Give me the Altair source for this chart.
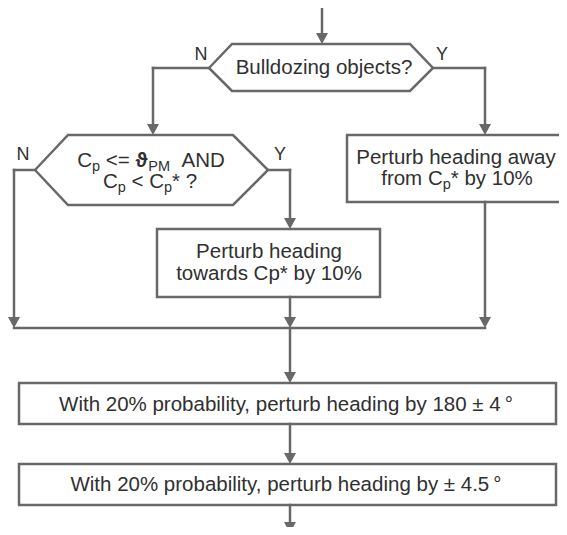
import altair as alt
import pandas as pd

# ---------------- content ----------------
branch_labels = ["N", "Y", "N", "Y"]
single_labels = [
    "Bulldozing objects?",
    "Perturb heading away",
    "Perturb heading",
    "towards Cp* by 10%",
    "With 20% probability, perturb heading by 180 \u00b1 4\u2009\u00b0",
    "With 20% probability, perturb heading by \u00b1 4.5\u2009\u00b0",
]
# lines with subscripts: (text, role) n=normal, s=subscript, b=bold symbol
cond_line1 = [("C", "n"), ("p", "s"), (" <= ", "n"), ("\u03d1", "b"), ("PM", "s"), ("  AND", "n")]
cond_line2 = [("C", "n"), ("p", "s"), (" < C", "n"), ("p", "s"), ("* ?", "n")]
away_line2 = [("from C", "n"), ("p", "s"), ("* by 10%", "n")]

# ---------------- layout (diagram coordinates, px of the figure) ----------------
single_cx = [324, 456, 269, 269, 286, 286]
single_base = [74, 164, 258, 279.5, 411, 491]
rich_lines = [cond_line1, cond_line2, away_line2]
rich_cx = [151, 150, 457]
rich_base = [167, 188, 184.5]

branch_x = [201, 442, 23, 280]
branch_base = [60, 60, 160, 160]

box_x1 = [347, 157, 19, 19]
box_x2 = [566, 380, 556, 556]
box_y1 = [135, 229, 383, 464]
box_y2 = [202, 297, 424, 505]

hex_xl = [209, 35]
hex_xtl = [232, 68]
hex_xtr = [410, 233]
hex_xr = [433, 268]
hex_yt = [44, 135]
hex_ym = [68, 170]
hex_yb = [91, 205]

seg_x1 = [322, 209, 153, 433, 485, 35, 14, 268, 290, 290, 485, 14, 290, 290, 290]
seg_y1 = [0, 68, 68, 68, 68, 170, 170, 170, 170, 297, 202, 328, 328, 424, 505]
seg_x2 = [322, 153, 153, 485, 485, 14, 14, 290, 290, 290, 485, 485, 290, 290, 290]
seg_y2 = [44, 68, 135, 68, 135, 170, 328, 170, 229, 328, 328, 328, 383, 464, 533]

arrow_x = [322, 153, 485, 14, 290, 290, 485, 290, 290, 290]
arrow_y = [44, 135, 135, 328, 229, 328, 328, 383, 464, 533]

LINE = "#686868"
TEXT = "#303030"
FONT = "Liberation Sans"
MAIN_SIZE = 20.5
SUB_SIZE = 14.5

# Arial / Liberation Sans advance widths (per 1000 em)
W = {" ": 278, "C": 722, "p": 556, "<": 584, "=": 584, "\u03d1": 630, "P": 667, "M": 833,
     "A": 667, "N": 722, "D": 722, "*": 389, "?": 556, "f": 278, "r": 333, "o": 556,
     "m": 833, "b": 556, "y": 500, "1": 556, "0": 556, "%": 889}


def tw(s, size):
    return sum(W.get(ch, 556) for ch in s) * size / 1000.0


sizes = {"n": MAIN_SIZE, "s": SUB_SIZE, "b": MAIN_SIZE}
rich_rows = []
for segs, cx, base in zip(rich_lines, rich_cx, rich_base):
    total = sum(tw(t, sizes[r]) for t, r in segs)
    cur = cx - total / 2
    for t, r in segs:
        sz = sizes[r]
        lead = len(t) - len(t.lstrip(" "))
        rich_rows.append(dict(x=cur + lead * 278 * sz / 1000.0,
                              y=base + (4 if r == "s" else 0),
                              text=t.strip(" "), fs=sz, bold=(r == "b")))
        cur += tw(t, sz)
rich_df = pd.DataFrame(rich_rows)

PLOT_W, PLOT_H = 551, 519
xs = alt.Scale(domain=[8, 8 + PLOT_W], nice=False, zero=False)
ys = alt.Scale(domain=[8, 8 + PLOT_H], nice=False, zero=False, reverse=True)

boxes = pd.DataFrame(dict(x1=box_x1, x2=box_x2, y1=box_y1, y2=box_y2))
hex_rows = []
for i in range(len(hex_xl)):
    pts = [(hex_xl[i], hex_ym[i]), (hex_xtl[i], hex_yt[i]), (hex_xtr[i], hex_yt[i]),
           (hex_xr[i], hex_ym[i]), (hex_xtr[i], hex_yb[i]), (hex_xtl[i], hex_yb[i]),
           (hex_xl[i], hex_ym[i])]
    for k, (px, py) in enumerate(pts):
        hex_rows.append(dict(id=i, k=k, x=px, y=py))
hexes = pd.DataFrame(hex_rows)

# shorten line ends that meet an arrow tip
segs = pd.DataFrame(dict(x1=seg_x1, y1=seg_y1, x2=seg_x2, y2=seg_y2))
tips = set(zip(arrow_x, arrow_y))
segs["y2"] = [y2 - 5 if (x2, y2) in tips and x1 == x2 else y2
              for x1, x2, y2 in zip(segs.x1, segs.x2, segs.y2)]
arrows = pd.DataFrame(dict(x=arrow_x, y=arrow_y))

singles = pd.DataFrame(dict(x=single_cx, y=single_base, text=single_labels))
branches = pd.DataFrame(dict(x=branch_x, y=branch_base, text=branch_labels))

box_layer = alt.Chart(boxes).mark_rect(fill="white", stroke=LINE, strokeWidth=2.5).encode(
    x=alt.X("x1:Q", scale=xs, axis=None), x2="x2:Q",
    y=alt.Y("y1:Q", scale=ys, axis=None), y2="y2:Q")

hex_layer = alt.Chart(hexes).mark_line(color=LINE, strokeWidth=2.5, strokeJoin="miter").encode(
    x=alt.X("x:Q", scale=xs, axis=None), y=alt.Y("y:Q", scale=ys, axis=None),
    detail="id:N", order="k:Q")

seg_layer = alt.Chart(segs).mark_rule(color=LINE, strokeWidth=2.5, strokeCap="square").encode(
    x=alt.X("x1:Q", scale=xs, axis=None), x2="x2:Q",
    y=alt.Y("y1:Q", scale=ys, axis=None), y2="y2:Q")

arrow_layer = alt.Chart(arrows).mark_point(
    shape="M-1,-1.85L1,-1.85L0,0Z", filled=True, size=144, color=LINE, opacity=1, strokeWidth=0
).encode(x=alt.X("x:Q", scale=xs, axis=None), y=alt.Y("y:Q", scale=ys, axis=None))

single_layer = alt.Chart(singles).mark_text(
    align="center", baseline="alphabetic", font=FONT, fontSize=MAIN_SIZE, color=TEXT
).encode(x=alt.X("x:Q", scale=xs, axis=None), y=alt.Y("y:Q", scale=ys, axis=None), text="text:N")

branch_layer = alt.Chart(branches).mark_text(
    align="center", baseline="alphabetic", font=FONT, fontSize=18, color=TEXT
).encode(x=alt.X("x:Q", scale=xs, axis=None), y=alt.Y("y:Q", scale=ys, axis=None), text="text:N")

rich_norm = alt.Chart(rich_df[~rich_df.bold]).mark_text(
    align="left", baseline="alphabetic", font=FONT, color=TEXT
).encode(x=alt.X("x:Q", scale=xs, axis=None), y=alt.Y("y:Q", scale=ys, axis=None),
         text="text:N", size=alt.Size("fs:Q", scale=None, legend=None))

rich_bold = alt.Chart(rich_df[rich_df.bold]).mark_text(
    align="left", baseline="alphabetic", font=FONT, color=TEXT, fontWeight="bold"
).encode(x=alt.X("x:Q", scale=xs, axis=None), y=alt.Y("y:Q", scale=ys, axis=None),
         text="text:N", size=alt.Size("fs:Q", scale=None, legend=None))

chart = alt.layer(
    box_layer, hex_layer, seg_layer, arrow_layer, single_layer, branch_layer, rich_norm, rich_bold
).properties(
    width=PLOT_W, height=PLOT_H, padding=0, background="white",
    autosize=alt.AutoSizeParams(type="none")
).configure_view(stroke=None)

chart.save("out.html", embed_options={"renderer": "svg", "actions": False})
